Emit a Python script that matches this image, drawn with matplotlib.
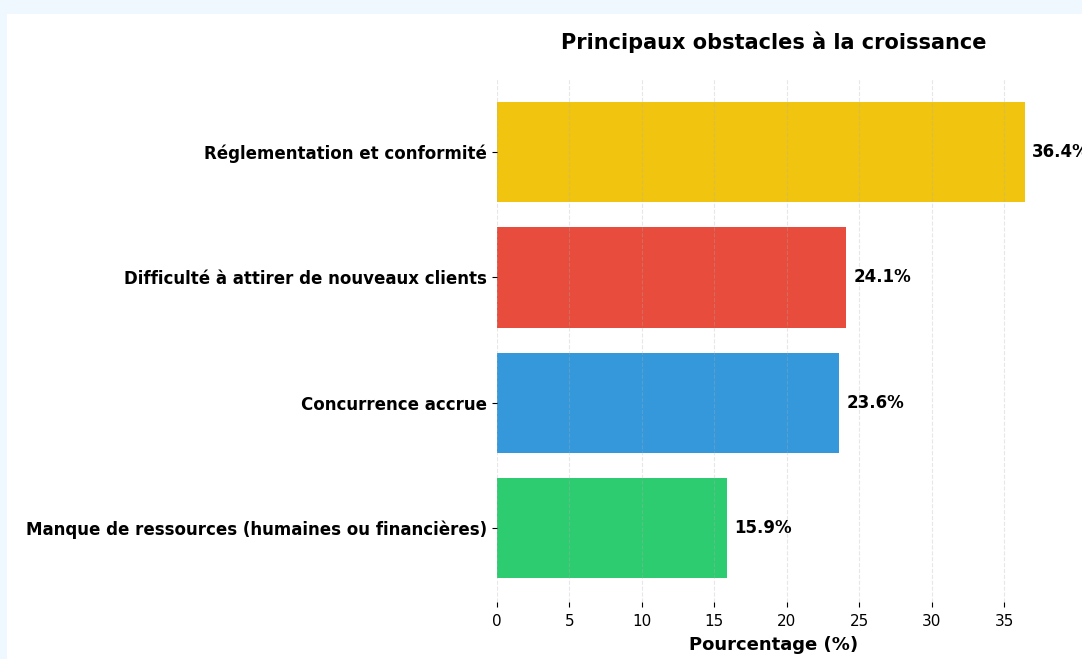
import matplotlib.pyplot as plt
from matplotlib.patches import Rectangle

plt.rcParams['font.family'] = ['DejaVu Sans']

#%%
categories = ['Manque de ressources (humaines ou financières)',
              'Concurrence accrue',
              'Difficulté à attirer de nouveaux clients',
              'Réglementation et conformité']
values = [15.9, 23.6, 24.1, 36.4]
colors = ['#2ecc71', '#3498db', '#e74c3c', '#f1c40f']

#%%
fig = plt.figure(figsize=(10.82, 6.59), dpi=100, facecolor='#eef8fe')
fig.patches.append(Rectangle((7 / 1082, 0), 1, 1 - 14 / 659, transform=fig.transFigure,
                             facecolor='white', edgecolor='none', zorder=-10))
ax = fig.add_axes([0.4593, 0.0865, 0.512, 0.795])
ax.set_facecolor('white')

bars = ax.barh(categories, values, color=colors, height=0.8)
for bar, v in zip(bars, values):
    ax.text(v + 0.5, bar.get_y() + bar.get_height() / 2, f'{v}%',
            va='center', ha='left', fontsize=12, fontweight='bold')

ax.set_xlim(0, max(values) * 1.05)
ax.set_xticks(range(0, 40, 5))
ax.grid(axis='x', linestyle='--', alpha=0.3)
for s in ax.spines.values():
    s.set_visible(False)
ax.tick_params(axis='x', labelsize=11, pad=5)
ax.tick_params(axis='y', labelsize=12)
for lbl in ax.get_yticklabels():
    lbl.set_fontweight('bold')
ax.set_xlabel('Pourcentage (%)', fontsize=13, fontweight='bold', labelpad=5)
ax.set_title('Principaux obstacles à la croissance', fontsize=15, fontweight='bold', pad=21)

fig.savefig('out.png', dpi=100, facecolor=fig.get_facecolor())
